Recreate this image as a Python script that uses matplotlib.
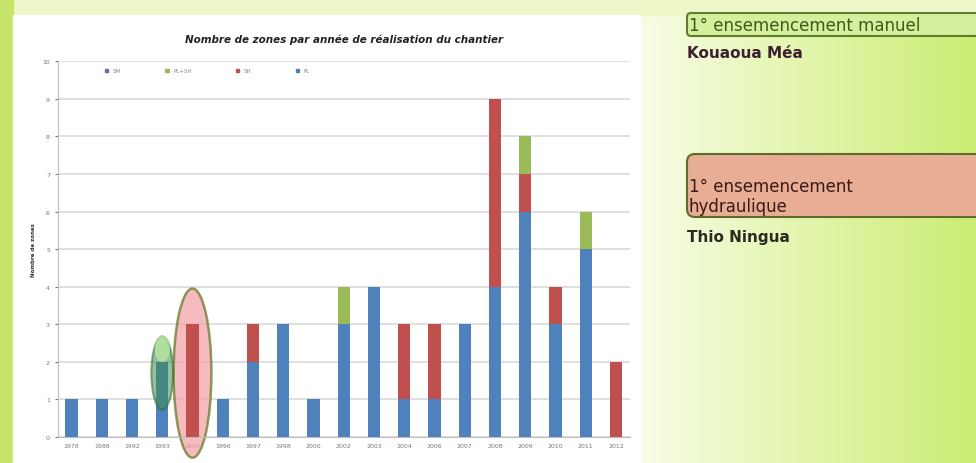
"""
Nombre de zones par annee de realisation du chantier - slide recreation
"""

import numpy as np
import matplotlib
matplotlib.use('Agg')
import matplotlib.pyplot as plt
from matplotlib.patches import Ellipse, FancyBboxPatch, Rectangle

# data (values blurry, best estimates)
years = ['1978', '1988', '1992', '1993', '1995', '1996', '1997', '1998', '2000', '2002',
         '2003', '2004', '2006', '2007', '2008', '2009', '2010', '2011', '2012']
pl = [1, 1, 1, 2, 0, 1, 2, 3, 1, 3, 4, 1, 1, 3, 4, 6, 3, 5, 0]
sh = [0, 0, 0, 0, 3, 0, 1, 0, 0, 0, 0, 2, 2, 0, 5, 1, 1, 0, 2]
pl_sh = [0, 0, 0, 0, 0, 0, 0, 0, 0, 1, 0, 0, 0, 0, 0, 1, 0, 1, 0]
series_labels = ['SM', 'PL+SH', 'SH', 'PL']

C_BLUE = '#4F81BD'
C_RED = '#C0504D'
C_GREEN = '#9BBB59'
C_PURPLE = '#8064A2'

fig = plt.figure(figsize=(9.76, 4.64), dpi=100)

# slide background
bg = fig.add_axes([0, 0, 1, 1])
bg.set_xlim(0, 976)
bg.set_ylim(464, 0)
bg.axis('off')
grad = np.linspace(0, 1, 256)
left = np.array([0.97, 0.99, 0.90])
right = np.array([0.80, 0.93, 0.45])
img = left[None, :] + (right - left)[None, :] * grad[:, None]
bg.imshow(img[None, :, :], extent=[640, 976, 464, 0], aspect='auto')
bg.add_patch(Rectangle((0, 0), 976, 16, color='#eef7c8', zorder=1))
bg.add_patch(Rectangle((0, 0), 13, 464, color='#c4e46a', zorder=1))
bg.add_patch(Rectangle((13, 16), 627, 448, color='white', zorder=2))

# text boxes on the right
bg.add_patch(FancyBboxPatch((687, 14), 300, 23, boxstyle='round,pad=0,rounding_size=4',
                            fc='#d5ef9e', ec='#5f7d2a', lw=1.5, zorder=3))
bg.text(689, 26, '1° ensemencement manuel', fontsize=12, color='#3c5a1a',
        va='center', zorder=4)
bg.text(687, 54, 'Kouaoua Méa', fontsize=11, color='#3a2030', fontweight='bold',
        va='center', zorder=4)
bg.add_patch(FancyBboxPatch((687, 155), 300, 63, boxstyle='round,pad=0,rounding_size=8',
                            fc='#e8ad95', ec='#5f6b2a', lw=1.5, zorder=3))
bg.text(689, 197, '1° ensemencement\nhydraulique', fontsize=12, color='#3a1a14',
        va='center', linespacing=1.15, zorder=4)
bg.text(687, 238, 'Thio Ningua', fontsize=11, color='#2a2a20', fontweight='bold',
        va='center', zorder=4)

# the chart
ax = fig.add_axes([0.059, 0.056, 0.587, 0.81])
ax.set_zorder(5)
x = np.arange(len(years))
w = 0.4
ax.bar(x, pl, w, color=C_BLUE, zorder=3)
ax.bar(x, sh, w, bottom=pl, color=C_RED, zorder=3)
bottom2 = np.array(pl) + np.array(sh)
ax.bar(x, pl_sh, w, bottom=bottom2, color=C_GREEN, zorder=3)

ax.set_xlim(-0.46, 18.48)
ax.set_ylim(0, 10)
ax.set_yticks(range(0, 11))
ax.set_xticks(x)
ax.set_xticklabels(years, fontsize=4.5, color='#777777')
ax.tick_params(axis='y', labelsize=4.5, colors='#777777', length=2)
ax.tick_params(axis='x', length=0, pad=4)
ax.grid(axis='y', color='#d9d9d9', lw=1.2, zorder=0)
for s in ['top', 'right']:
    ax.spines[s].set_visible(False)
ax.spines['left'].set_color('#bfbfbf')
ax.spines['bottom'].set_color('#bfbfbf')
ax.set_ylabel('Nombre de zones', fontsize=4, fontweight='bold', color='#333333')
ax.yaxis.set_label_coords(-0.037, 0.5)
ax.set_title('Nombre de zones par année de réalisation du chantier', fontsize=7.5,
             fontweight='bold', style='italic', color='#222222', pad=14)

# legend
handles = [Rectangle((0, 0), 1, 1, color=c) for c in [C_PURPLE, C_GREEN, C_RED, C_BLUE]]
leg = ax.legend(handles, series_labels, loc='upper left', bbox_to_anchor=(0.07, 1.0),
                ncol=4, fontsize=4, frameon=True, framealpha=1, edgecolor='white',
                handlelength=0.6, handleheight=0.6, columnspacing=8, borderpad=0.8)
for t in leg.get_texts():
    t.set_color('#888888')
leg.set_zorder(6)

# highlight ovals
ax.add_patch(Ellipse((3, 1.7), 0.72, 1.95, fc='#3f8f50', alpha=0.55, ec='#2f6a2a',
                     lw=1.5, zorder=4))
ax.add_patch(Ellipse((3, 2.35), 0.5, 0.7, fc='#b6e6a0', alpha=0.8, ec='none', zorder=4))
ax.add_patch(Ellipse((4, 1.7), 1.25, 4.5, fc='#f2a5a8', alpha=0.75, ec='#6b7a2a',
                     lw=1.8, zorder=2, clip_on=False))

fig.savefig('out.png', dpi=100)
